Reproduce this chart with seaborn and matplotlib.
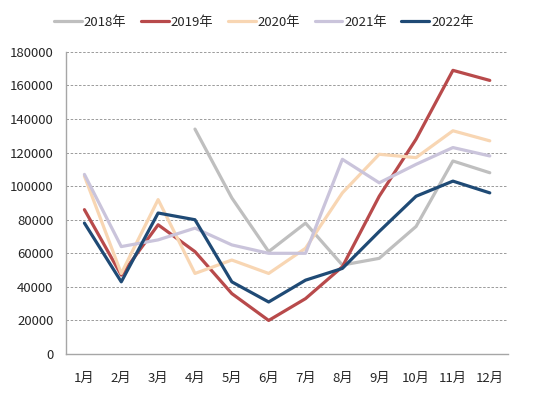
import matplotlib
matplotlib.use("Agg")
import matplotlib.pyplot as plt
import seaborn as sns
import pandas as pd
import numpy as np

months = ["1月", "2月", "3月", "4月", "5月", "6月", "7月", "8月", "9月", "10月", "11月", "12月"]
y2018 = [np.nan, np.nan, np.nan, 134000, 93000, 61000, 78000, 53000, 57000, 76000, 115000, 108000]
y2019 = [86000, 47000, 77000, 61000, 36000, 20000, 33000, 52000, 94000, 128000, 169000, 163000]
y2020 = [106000, 48000, 92000, 48000, 56000, 48000, 63000, 96000, 119000, 117000, 133000, 127000]
y2021 = [107000, 64000, 68000, 75000, 65000, 60000, 60000, 116000, 102000, 113000, 123000, 118000]
y2022 = [78000, 43000, 84000, 80000, 43000, 31000, 44000, 51000, 73000, 94000, 103000, 96000]
series_names = ["2018年", "2019年", "2020年", "2021年", "2022年"]
colors = ["#BFBFBF", "#B84A4B", "#F8D6B3", "#CAC4DB", "#1F4A75"]

sns.set_theme(style="white")
plt.rcParams["font.family"] = ["Noto Sans CJK SC", "DejaVu Sans"]

df = pd.DataFrame({"month": months * 5,
                   "x": list(range(12)) * 5,
                   "value": y2018 + y2019 + y2020 + y2021 + y2022,
                   "year": [n for n in series_names for _ in months]})

fig = plt.figure(figsize=(5.5, 3.96), dpi=100)
ax = fig.add_axes([0.12, 0.106, 0.804, 0.763])
sns.lineplot(data=df, x="x", y="value", hue="year", palette=colors,
             hue_order=series_names, linewidth=2.3, ax=ax, legend=True)

ax.set_xlim(-0.5, 11.5)
ax.set_ylim(0, 180000)
ax.set_yticks(range(0, 180001, 20000))
ax.set_yticklabels([str(v) for v in range(0, 180001, 20000)], fontsize=9.5)
ax.set_xticks(range(12))
ax.set_xticklabels(months, fontsize=9.5)
ax.tick_params(axis="x", pad=13, length=0)
ax.tick_params(axis="y", length=0, pad=9)
ax.set_xlabel("")
ax.set_ylabel("")
for y in range(20000, 180001, 20000):
    ax.axhline(y, color="#8C8C8C", linestyle=(0, (3, 2)), linewidth=0.6, zorder=0)
for s in ["top", "right"]:
    ax.spines[s].set_visible(False)
for s in ["left", "bottom"]:
    ax.spines[s].set_color("#A6A6A6")
    ax.spines[s].set_linewidth(1)

handles, labels = ax.get_legend_handles_labels()
ax.legend(handles, labels, loc="center", ncol=5,
          frameon=False, fontsize=9.5, handlelength=2.1, handletextpad=0.15, columnspacing=1.1)
ax.get_legend().set_bbox_to_anchor((0.48, 0.943), transform=fig.transFigure)

fig.savefig("out.png", dpi=100)
